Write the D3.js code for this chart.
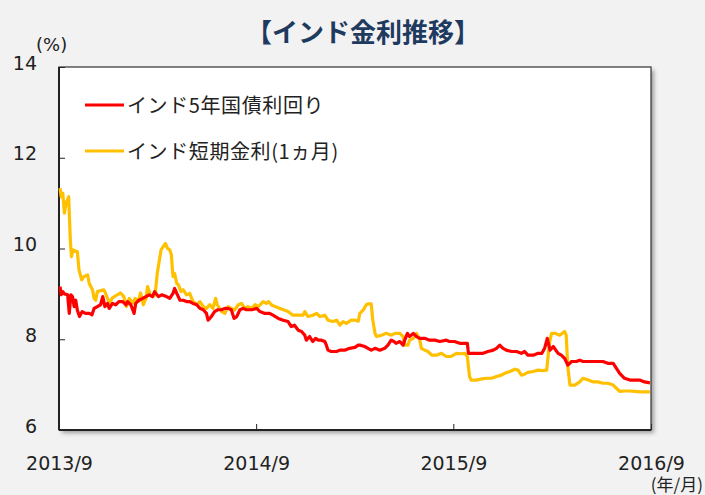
<!DOCTYPE html>
<meta charset="utf-8">
<style>
body { margin: 0; background: #f2f2f2; overflow: hidden; }
svg { display: block; }
.tick text { font-family: "DejaVu Sans", sans-serif; }
</style>
<body>

<script src="https://d3js.org/d3.v7.min.js"></script>

<script>
var title = "【インド金利推移】";
var seriesNames = ["インド5年国債利回り", "インド短期金利(1ヵ月)"];
var seriesColors = ["#ff0000", "#ffc000"];
var yTicks = [6, 8, 10, 12, 14];
var xTicks = ["2013-09-01", "2014-09-01", "2015-09-01", "2016-09-01"];
var xTickLabels = ["2013/9", "2014/9", "2015/9", "2016/9"];

// インド5年国債利回り
var bondDates = [
  "2013-09-03","2013-09-05","2013-09-08","2013-09-11","2013-09-17","2013-09-20","2013-09-23","2013-09-26","2013-09-29",
  "2013-10-02","2013-10-05","2013-10-09","2013-10-14","2013-10-20","2013-10-27","2013-11-01","2013-11-05","2013-11-11",
  "2013-11-17","2013-11-21","2013-11-25","2013-11-30","2013-12-03","2013-12-09","2013-12-15","2013-12-21","2013-12-28",
  "2014-01-03","2014-01-06","2014-01-12","2014-01-18","2014-01-21","2014-01-27","2014-02-03","2014-02-09","2014-02-15",
  "2014-02-21","2014-02-25","2014-03-04","2014-03-10","2014-03-19","2014-03-25","2014-03-31","2014-04-03","2014-04-07",
  "2014-04-13","2014-04-19","2014-04-25","2014-05-01","2014-05-07","2014-05-14","2014-05-20","2014-05-26","2014-06-01",
  "2014-06-04","2014-06-10","2014-06-16","2014-06-22","2014-06-29","2014-07-05","2014-07-11","2014-07-17","2014-07-22",
  "2014-07-27","2014-08-02","2014-08-08","2014-08-14","2014-08-24","2014-09-02","2014-09-08","2014-09-17","2014-09-26",
  "2014-10-02","2014-10-12","2014-10-21","2014-10-30","2014-11-05","2014-11-11","2014-11-18","2014-11-24","2014-11-30",
  "2014-12-03","2014-12-09","2014-12-15","2014-12-20","2014-12-25","2014-12-31","2015-01-06","2015-01-09","2015-01-12",
  "2015-01-18","2015-01-28","2015-02-03","2015-02-12","2015-02-21","2015-03-03","2015-03-09","2015-03-12","2015-03-21",
  "2015-03-27","2015-04-02","2015-04-09","2015-04-18","2015-04-27","2015-05-03","2015-05-09","2015-05-14","2015-05-18",
  "2015-05-25","2015-05-31","2015-06-03","2015-06-08","2015-06-12","2015-06-19","2015-06-25","2015-07-01","2015-07-10",
  "2015-07-19","2015-07-29","2015-08-07","2015-08-19","2015-08-25","2015-09-03","2015-09-13","2015-09-27","2015-09-29",
  "2015-10-07","2015-10-16","2015-10-26","2015-11-04","2015-11-14","2015-11-20","2015-11-26","2015-12-02","2015-12-08",
  "2015-12-18","2015-12-27","2016-01-05","2016-01-11","2016-01-17","2016-01-27","2016-02-05","2016-02-12","2016-02-17",
  "2016-02-22","2016-02-27","2016-03-04","2016-03-13","2016-03-19","2016-03-25","2016-03-31","2016-04-07","2016-04-16",
  "2016-04-22","2016-04-28","2016-05-17","2016-06-04","2016-06-13","2016-06-23","2016-06-29","2016-07-05","2016-07-14",
  "2016-07-24","2016-08-02","2016-08-11","2016-08-20","2016-08-30"
];
var bondValues = [
  9.16, 8.98, 9.05, 9.00, 8.98, 8.57, 8.98, 8.94, 8.72,
  8.86, 8.64, 8.50, 8.61, 8.57, 8.57, 8.54, 8.68, 8.72,
  8.76, 8.94, 8.72, 8.79, 8.68, 8.79, 8.76, 8.83, 8.83,
  8.76, 8.83, 8.76, 8.57, 8.79, 8.86, 8.90, 8.94, 8.98,
  8.94, 9.05, 8.94, 8.98, 8.94, 8.90, 9.01, 9.12, 9.01,
  8.86, 8.86, 8.83, 8.83, 8.79, 8.76, 8.68, 8.65, 8.57,
  8.42, 8.50, 8.61, 8.65, 8.65, 8.68, 8.68, 8.65, 8.46,
  8.50, 8.65, 8.68, 8.65, 8.65, 8.68, 8.61, 8.57, 8.57,
  8.53, 8.46, 8.42, 8.39, 8.28, 8.31, 8.20, 8.17, 8.09,
  7.98, 8.06, 7.95, 8.02, 7.98, 7.98, 7.95, 7.87, 7.76,
  7.73, 7.73, 7.76, 7.76, 7.80, 7.82, 7.87, 7.87, 7.84,
  7.80, 7.76, 7.80, 7.76, 7.80, 7.87, 7.98, 7.95, 7.91,
  7.95, 7.87, 7.98, 8.13, 8.06, 8.13, 8.06, 8.02, 8.02,
  7.98, 7.98, 7.95, 7.98, 7.95, 7.95, 7.91, 7.91, 7.69,
  7.69, 7.69, 7.69, 7.73, 7.76, 7.80, 7.87, 7.80, 7.76,
  7.73, 7.73, 7.69, 7.73, 7.65, 7.65, 7.69, 7.69, 7.80,
  8.02, 7.76, 7.84, 7.69, 7.65, 7.58, 7.43, 7.51, 7.51,
  7.54, 7.51, 7.51, 7.51, 7.47, 7.47, 7.36, 7.25, 7.14,
  7.10, 7.10, 7.10, 7.06, 7.04
];

// インド短期金利(1ヵ月)
var shortDates = [
  "2013-09-03","2013-09-05","2013-09-08","2013-09-11","2013-09-14","2013-09-19","2013-09-20","2013-09-22","2013-09-24",
  "2013-09-27","2013-10-05","2013-10-08","2013-10-13","2013-10-17","2013-10-24","2013-10-27","2013-11-02","2013-11-05",
  "2013-11-08","2013-11-11","2013-11-23","2013-11-26","2013-12-03","2013-12-09","2013-12-18","2013-12-24","2013-12-30",
  "2014-01-04","2014-01-09","2014-01-16","2014-01-20","2014-01-26","2014-01-30","2014-02-04","2014-02-09","2014-02-12",
  "2014-02-17","2014-02-22","2014-02-26","2014-03-02","2014-03-09","2014-03-13","2014-03-17","2014-03-21","2014-03-25",
  "2014-03-28","2014-03-31","2014-04-03","2014-04-07","2014-04-10","2014-04-15","2014-04-19","2014-04-25","2014-05-01",
  "2014-05-07","2014-05-14","2014-05-20","2014-05-26","2014-06-01","2014-06-07","2014-06-13","2014-06-18","2014-06-21",
  "2014-06-29","2014-07-05","2014-07-11","2014-07-17","2014-07-23","2014-07-30","2014-08-05","2014-08-11","2014-08-17",
  "2014-08-24","2014-08-30","2014-09-05","2014-09-14","2014-09-20","2014-09-24","2014-09-29","2014-10-06","2014-10-15",
  "2014-10-24","2014-10-30","2014-11-08","2014-11-18","2014-11-27","2014-11-30","2014-12-06","2014-12-15","2014-12-22",
  "2014-12-28","2015-01-06","2015-01-12","2015-01-21","2015-01-28","2015-02-03","2015-02-09","2015-02-15","2015-02-24",
  "2015-03-03","2015-03-09","2015-03-12","2015-03-18","2015-03-24","2015-03-27","2015-04-02","2015-04-05","2015-04-09",
  "2015-04-12","2015-04-21","2015-04-30","2015-05-09","2015-05-16","2015-05-25","2015-05-31","2015-06-03","2015-06-09",
  "2015-06-12","2015-06-19","2015-06-25","2015-07-01","2015-07-04","2015-07-10","2015-07-16","2015-07-23","2015-08-01",
  "2015-08-10","2015-08-19","2015-08-28","2015-09-07","2015-09-16","2015-09-22","2015-09-27","2015-10-01","2015-10-04",
  "2015-10-13","2015-10-22","2015-11-01","2015-11-11","2015-11-20","2015-11-29","2015-12-05","2015-12-15","2015-12-24",
  "2015-12-30","2016-01-05","2016-01-11","2016-01-17","2016-01-27","2016-02-05","2016-02-14","2016-02-21","2016-02-24",
  "2016-02-27","2016-03-01","2016-03-07","2016-03-16","2016-03-25","2016-03-28","2016-03-31","2016-04-04","2016-04-13",
  "2016-04-22","2016-04-28","2016-05-08","2016-05-17","2016-05-26","2016-06-04","2016-06-13","2016-06-23","2016-06-29",
  "2016-07-05","2016-07-14","2016-07-24","2016-08-02","2016-08-11","2016-08-20","2016-08-30"
];
var shortValues = [
  11.33, 11.14, 11.22, 10.78, 11.00, 11.14, 10.78, 10.18, 9.82,
  9.97, 9.93, 9.53, 9.31, 9.38, 9.42, 9.23, 9.09, 8.90,
  8.86, 9.05, 9.09, 9.02, 8.80, 8.91, 8.98, 9.02, 8.94,
  8.72, 8.90, 8.80, 8.90, 8.84, 9.02, 8.76, 8.90, 9.16,
  8.98, 8.94, 8.98, 9.46, 9.97, 10.04, 10.11, 10.00, 9.97,
  9.86, 9.38, 9.45, 9.23, 9.20, 9.05, 9.09, 8.98, 9.01,
  8.83, 8.76, 8.83, 8.72, 8.68, 8.76, 8.68, 8.90, 8.76,
  8.61, 8.57, 8.72, 8.68, 8.64, 8.76, 8.79, 8.68, 8.72,
  8.68, 8.76, 8.72, 8.83, 8.79, 8.83, 8.76, 8.72, 8.68,
  8.64, 8.61, 8.53, 8.53, 8.53, 8.61, 8.50, 8.53, 8.57,
  8.50, 8.53, 8.42, 8.39, 8.42, 8.31, 8.39, 8.35, 8.42,
  8.42, 8.40, 8.57, 8.64, 8.76, 8.78, 8.78, 8.42, 8.13,
  8.06, 8.09, 8.13, 8.09, 8.13, 8.13, 8.06, 7.87, 7.87,
  7.98, 8.02, 8.13, 7.98, 7.80, 7.76, 7.73, 7.65, 7.65,
  7.69, 7.62, 7.62, 7.69, 7.68, 7.69, 7.62, 7.18, 7.10,
  7.10, 7.12, 7.14, 7.14, 7.18, 7.21, 7.25, 7.29, 7.34,
  7.32, 7.21, 7.23, 7.27, 7.29, 7.32, 7.31, 7.32, 7.69,
  7.98, 8.13, 8.13, 8.09, 8.17, 8.09, 7.39, 6.99, 6.99,
  7.06, 7.14, 7.10, 7.06, 7.06, 7.03, 7.03, 6.99, 6.92,
  6.85, 6.86, 6.86, 6.85, 6.84, 6.84, 6.84
];

var width = 705, height = 495;
var margin = {top: 67, right: 54, bottom: 65, left: 59};
var parse = d3.timeParse("%Y-%m-%d");

var svg = d3.select("body").append("svg")
    .attr("width", width)
    .attr("height", height);

var x = d3.scaleTime()
    .domain([parse(xTicks[0]), parse(xTicks[xTicks.length - 1])])
    .range([margin.left, width - margin.right]);
var y = d3.scaleLinear()
    .domain([6, 14])
    .range([height - margin.bottom, margin.top]);

var pw = x.range()[1] - x.range()[0], ph = y.range()[0] - y.range()[1];

// plot frame with soft shadow
var defs = svg.append("defs");
var f = defs.append("filter").attr("id", "shadow")
    .attr("x", "-5%").attr("y", "-5%").attr("width", "115%").attr("height", "115%");
f.append("feDropShadow").attr("dx", 3).attr("dy", 3).attr("stdDeviation", 2)
    .attr("flood-color", "#000").attr("flood-opacity", 0.35);

svg.append("rect")
    .attr("x", margin.left).attr("y", margin.top)
    .attr("width", pw).attr("height", ph)
    .attr("fill", "#fff")
    .attr("filter", "url(#shadow)");

svg.append("text")
    .attr("x", 363).attr("y", 42)
    .attr("text-anchor", "middle")
    .attr("font-family", "Noto Sans CJK JP")
    .attr("font-weight", "bold")
    .attr("font-size", 26)
    .attr("fill", "#1f3a5f")
    .text(title);

// y axis
var yAxis = svg.append("g")
    .attr("transform", "translate(" + margin.left + ",0)")
    .call(d3.axisRight(y).tickValues(yTicks).tickSize(6).tickFormat(d3.format("d")));
yAxis.select(".domain").remove();
yAxis.selectAll(".tick line").attr("stroke", "#222");
yAxis.selectAll(".tick text")
    .attr("x", -22).attr("y", 2).attr("text-anchor", "end").attr("dy", "0")
    .attr("font-size", 19).attr("fill", "#222");

// x axis
var xAxis = svg.append("g")
    .attr("transform", "translate(0," + (height - margin.bottom) + ")")
    .call(d3.axisTop(x).tickValues(xTicks.map(parse)).tickSize(6)
      .tickFormat(function(d, i) { return xTickLabels[i]; }));
xAxis.select(".domain").remove();
xAxis.selectAll(".tick line").attr("stroke", "#222");
xAxis.selectAll(".tick text")
    .attr("y", 40).attr("dy", "0")
    .attr("font-size", 19).attr("fill", "#222");

// frame border
svg.append("rect")
    .attr("x", margin.left).attr("y", margin.top)
    .attr("width", pw).attr("height", ph)
    .attr("fill", "none").attr("stroke", "#333").attr("stroke-width", 1.2);
svg.append("line")
    .attr("x1", margin.left).attr("x2", margin.left)
    .attr("y1", margin.top).attr("y2", height - margin.bottom)
    .attr("stroke", "#222").attr("stroke-width", 2);
svg.append("line")
    .attr("x1", margin.left).attr("x2", width - margin.right)
    .attr("y1", height - margin.bottom).attr("y2", height - margin.bottom)
    .attr("stroke", "#222").attr("stroke-width", 2);

svg.append("text")
    .attr("x", 36).attr("y", 51)
    .attr("font-family", "DejaVu Sans").attr("font-size", 18).attr("fill", "#222")
    .text("(%)");
svg.append("text")
    .attr("x", 703).attr("y", 491).attr("text-anchor", "end")
    .attr("font-family", "Noto Sans CJK JP").attr("font-size", 17).attr("fill", "#222")
    .text("(年/月)");

// lines
var line = d3.line()
    .x(function(d) { return x(d[0]); })
    .y(function(d) { return y(d[1]); });

var series = [
  bondDates.map(function(d, i) { return [parse(d), bondValues[i]]; }),
  shortDates.map(function(d, i) { return [parse(d), shortValues[i]]; })
];

var plot = svg.append("g");
[1, 0].forEach(function(k) {
  plot.append("path")
      .datum(series[k])
      .attr("fill", "none")
      .attr("stroke", seriesColors[k])
      .attr("stroke-width", 3.2)
      .attr("stroke-linejoin", "round")
      .attr("d", line);
});

// legend
var legend = svg.append("g");
seriesNames.forEach(function(name, i) {
  var ly = 105 + i * 46;
  legend.append("line")
      .attr("x1", 85).attr("x2", 124)
      .attr("y1", ly).attr("y2", ly)
      .attr("stroke", seriesColors[i]).attr("stroke-width", 3.2);
  legend.append("text")
      .attr("x", 127).attr("y", ly + 8)
      .attr("font-family", "Noto Sans CJK JP").attr("font-size", 20)
      .attr("letter-spacing", 0.6).attr("fill", "#222")
      .text(name);
});
</script>

</body>
